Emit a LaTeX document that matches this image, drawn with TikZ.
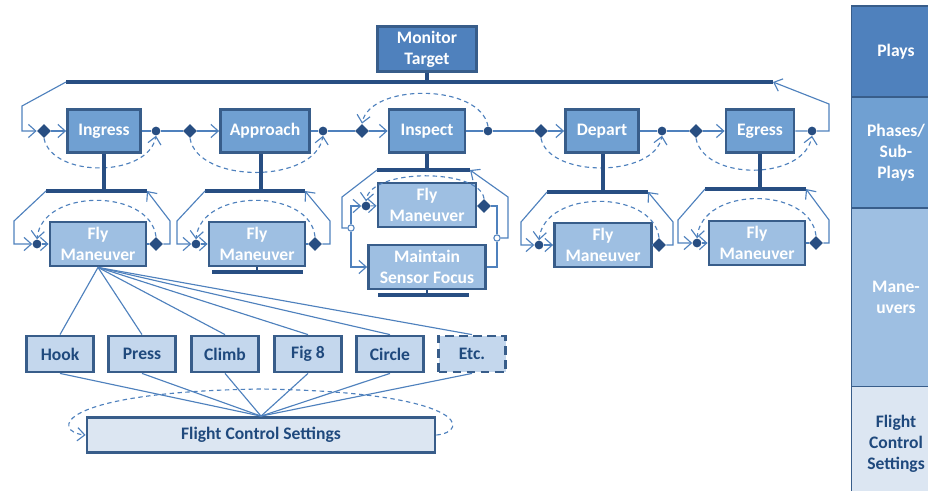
\documentclass[tikz,border=0pt]{standalone}
\usepackage{fontspec}
\setmainfont{Carlito}
\usepackage{tikz}
\usetikzlibrary{arrows.meta,shapes.geometric}

\definecolor{edgeblue}{RGB}{56,93,138}
\definecolor{barblue}{RGB}{40,78,130}
\definecolor{linkblue}{RGB}{79,129,189}
\definecolor{playblue}{RGB}{79,129,189}
\definecolor{phaseblue}{RGB}{112,160,210}
\definecolor{flyblue}{RGB}{158,191,226}
\definecolor{manblue}{RGB}{196,215,237}
\definecolor{fcsblue}{RGB}{220,230,242}
\definecolor{textblue}{RGB}{31,73,125}

\begin{document}
\begin{tikzpicture}[x=0.02cm,y=-0.02cm,
    box/.style={rectangle, draw=edgeblue, line width=1.6pt, text=white, font=\bfseries, align=center, inner sep=0pt},
    play/.style={box, fill=playblue, minimum width=1.98cm, minimum height=0.9cm},
    phase/.style={box, fill=phaseblue, minimum height=0.86cm},
    fly/.style={box, fill=flyblue, minimum width=1.92cm, minimum height=0.88cm},
    man/.style={box, fill=manblue, text=textblue, minimum width=1.34cm, minimum height=0.72cm},
    fcs/.style={box, fill=fcsblue, text=textblue, minimum width=6.96cm, minimum height=0.7cm},
    legend/.style={box, line width=1.1pt, minimum width=1.78cm},
    bar/.style={draw=barblue, line width=2.3pt},
    link/.style={draw=linkblue, line width=0.65pt},
    flow/.style={link, -{Straight Barb[length=4.2pt,width=7.5pt]}},
    back/.style={flow, dash pattern=on 2.5pt off 2pt},
    dot/.style={circle, fill=barblue, inner sep=0pt, minimum size=5pt},
    dmd/.style={diamond, fill=barblue, inner sep=0pt, minimum size=8pt},
    fork/.style={circle, draw=linkblue, line width=0.6pt, fill=white, inner sep=0pt, minimum size=3.6pt}]

\useasboundingbox (0,0) rectangle (928,490);

\node[play] (monitor) at (427,49) {Monitor\\Target};
\coordinate (topL) at (66,82);
\coordinate (topR) at (773,82);
\draw[bar] (topL) -- (topR);
\draw[bar, line width=2pt] (monitor.south) -- (monitor.south |- topL);

\node[phase, minimum width=1.46cm] (ingress) at (104,131) {Ingress};
\node[phase, minimum width=1.78cm] (approach) at (265,131) {Approach};
\node[phase, minimum width=1.52cm] (inspect) at (427,131) {Inspect};
\node[phase, minimum width=1.46cm] (depart) at (602,131) {Depart};
\node[phase, minimum width=1.36cm] (egress) at (760,131) {Egress};

\node[dmd] (dIng) at (44,131) {};
\node[dot] (cIng) at (156,131) {};
\node[dmd] (dApp) at (190,131) {};
\node[dot] (cApp) at (323,131) {};
\node[dmd] (dIns) at (362,131) {};
\node[dot] (cIns) at (488,131) {};
\node[dmd] (dDep) at (541,131) {};
\node[dot] (cDep) at (662,131) {};
\node[dmd] (dEgr) at (696,131) {};
\node[dot] (cEgr) at (812,131) {};

\draw[flow] (topL) -- (22,106) -- (22,131) -- (dIng);
\draw[flow] (dIng) -- (ingress);
\draw[link] (ingress) -- (cIng) -- (dApp);
\draw[flow] (dApp) -- (approach);
\draw[link] (approach) -- (cApp) -- (dIns);
\draw[flow] (dIns) -- (inspect);
\draw[link] (inspect) -- (cIns) -- (dDep);
\draw[flow] (dDep) -- (depart);
\draw[link] (depart) -- (cDep) -- (dEgr);
\draw[flow] (dEgr) -- (egress);
\draw[flow] (egress) -- (cEgr) -- (829,131) -- (829,104) -- (topR);

\draw[back] (dIng.south) .. controls (52,178) and (148,178) .. (cIng.south);
\draw[back] (dApp.south) .. controls (198,184) and (315,184) .. (cApp.south);
\draw[back] (cIns.north) .. controls (480,83) and (370,83) .. (dIns.north);
\draw[back] (dDep.south) .. controls (549,178) and (654,178) .. (cDep.south);
\draw[back] (dEgr.south) .. controls (704,181) and (804,181) .. (cEgr.south);

% ingress
\coordinate (ingL) at (46,191);
\coordinate (ingR) at (147,191);
\draw[bar] (ingL) -- (ingR);
\draw[bar, line width=2pt] (ingress.south) -- (ingress.south |- ingL);
\node[fly] (flyIng) at (98,244) {Fly\\Maneuver};
\node[dot] (fcIng) at (37,244) {};
\node[dmd] (fdIng) at (156,244) {};
\draw[flow] (ingL) -- (14,221) -- (14,244) -- (fcIng);
\draw[flow] (fcIng) -- (flyIng);
\draw[link] (flyIng) -- (fdIng);
\draw[flow] (fdIng) -- (170,244) -- (170,221) -- (ingR);
\draw[back] (fdIng.north) .. controls (150,188) and (42,188) .. (fcIng.north);

% approach
\coordinate (appL) at (205,191);
\coordinate (appR) at (305,191);
\draw[bar] (appL) -- (appR);
\draw[bar, line width=2pt] (261,154) -- (261,191);
\node[fly] (flyApp) at (257,244) {Fly\\Maneuver};
\node[dot] (fcApp) at (196,244) {};
\node[dmd] (fdApp) at (315,244) {};
\draw[flow] (appL) -- (177,221) -- (177,244) -- (fcApp);
\draw[flow] (fcApp) -- (flyApp);
\draw[link] (flyApp) -- (fdApp);
\draw[flow] (fdApp) -- (330,244) -- (330,221) -- (appR);
\draw[back] (fdApp.north) .. controls (310,188) and (201,188) .. (fcApp.north);
\draw[bar] (212,272) -- (303,272);
\draw[bar, line width=1.6pt] (flyApp.south) -- (flyApp.south |- 0,272);

% inspect
\coordinate (insL) at (377,170);
\coordinate (insR) at (470,170);
\draw[bar] (insL) -- (insR);
\draw[bar, line width=2pt] (inspect.south) -- (inspect.south |- insL);
\node[fly, minimum width=1.96cm] (flyIns) at (427,205) {Fly\\Maneuver};
\node[box, fill=flyblue, minimum width=2.34cm, minimum height=0.88cm] (sensor) at (427,267) {Maintain\\Sensor Focus};
\node[dot] (fcIns) at (366,206) {};
\node[dmd] (fdIns) at (484,206) {};
\node[fork] (forkL) at (351,228) {};
\node[fork] (forkR) at (497,238) {};
\draw[link] (insL) -- (342,197) -- (342,228) -- (forkL);
\draw[flow] (forkL) |- (fcIns);
\draw[flow] (forkL) |- (sensor);
\draw[flow] (fcIns) -- (flyIns);
\draw[link] (flyIns) -- (fdIns);
\draw[link] (fdIns) -| (forkR);
\draw[link] (sensor) -| (forkR);
\draw[flow] (forkR) -- (508,238) -- (508,197) -- (insR);
\draw[back] (fdIns.north) .. controls (480,168) and (370,168) .. (fcIns.north);
\draw[bar] (378,295) -- (469,295);
\draw[bar, line width=1.6pt] (sensor.south) -- (sensor.south |- 0,295);

% depart
\coordinate (depL) at (547,192);
\coordinate (depR) at (648,192);
\draw[bar] (depL) -- (depR);
\draw[bar, line width=2pt] (603,154) -- (603,192);
\node[fly, minimum width=1.94cm] (flyDep) at (603,245) {Fly\\Maneuver};
\node[dot] (fcDep) at (539,245) {};
\node[dmd] (fdDep) at (659,245) {};
\draw[flow] (depL) -- (521,222) -- (521,245) -- (fcDep);
\draw[flow] (fcDep) -- (flyDep);
\draw[link] (flyDep) -- (fdDep);
\draw[flow] (fdDep) -- (673,245) -- (673,222) -- (depR);
\draw[back] (fdDep.north) .. controls (653,189) and (544,189) .. (fcDep.north);

% egress
\coordinate (egrL) at (705,189);
\coordinate (egrR) at (806,189);
\draw[bar] (egrL) -- (egrR);
\draw[bar, line width=2pt] (egress.south) -- (egress.south |- egrL);
\node[fly] (flyEgr) at (757,243) {Fly\\Maneuver};
\node[dot] (fcEgr) at (697,243) {};
\node[dmd] (fdEgr) at (816,243) {};
\draw[flow] (egrL) -- (678,220) -- (678,243) -- (fcEgr);
\draw[flow] (fcEgr) -- (flyEgr);
\draw[link] (flyEgr) -- (fdEgr);
\draw[flow] (fdEgr) -- (829,243) -- (829,220) -- (egrR);
\draw[back] (fdEgr.north) .. controls (810,186) and (702,186) .. (fcEgr.north);

% maneuvers
\node[man] (hook) at (60,354) {Hook};
\node[man] (press) at (142,354) {Press};
\node[man] (climb) at (225,354) {Climb};
\node[man] (fig8) at (308,354) {Fig 8};
\node[man] (circle) at (390,354) {Circle};
\node[man, dashed, dash pattern=on 5pt off 3pt] (etc) at (472,354) {Etc.};
\node[fcs] (fcs) at (261,435) {Flight Control Settings};

\draw[link] (flyIng.south) -- (hook.north);
\draw[link] (flyIng.south) -- (press.north);
\draw[link] (flyIng.south) -- (climb.north);
\draw[link] (flyIng.south) -- (fig8.north);
\draw[link] (flyIng.south) -- (circle.north);
\draw[link] (flyIng.south) -- (etc.north);

\draw[link] (hook.south) -- (fcs.north);
\draw[link] (press.south) -- (fcs.north);
\draw[link] (climb.south) -- (fcs.north);
\draw[link] (fig8.south) -- (fcs.north);
\draw[link] (circle.south) -- (fcs.north);
\draw[link] (etc.south) -- (fcs.north);

\draw[back] (fcs.east) .. controls (470,432) and (470,392) .. (261,389)
    .. controls (52,392) and (52,432) .. (fcs.west);

% levels
\begin{scope}
\clip (840,0) rectangle (928,490);
\node[legend, fill=playblue, minimum height=1.82cm] (lvPlay) at (896,51.5) {Plays};
\node[legend, fill=phaseblue, minimum height=2.22cm] (lvPhase) at (896,152.5) {Phases/\\Sub-\\Plays};
\node[legend, fill=flyblue, minimum height=3.58cm] (lvMan) at (896,297.5) {Mane-\\uvers};
\node[legend, fill=fcsblue, text=textblue, minimum height=2.3cm] (lvFcs) at (896,444) {Flight\\Control\\Settings};
\end{scope}
\end{tikzpicture}
\end{document}
